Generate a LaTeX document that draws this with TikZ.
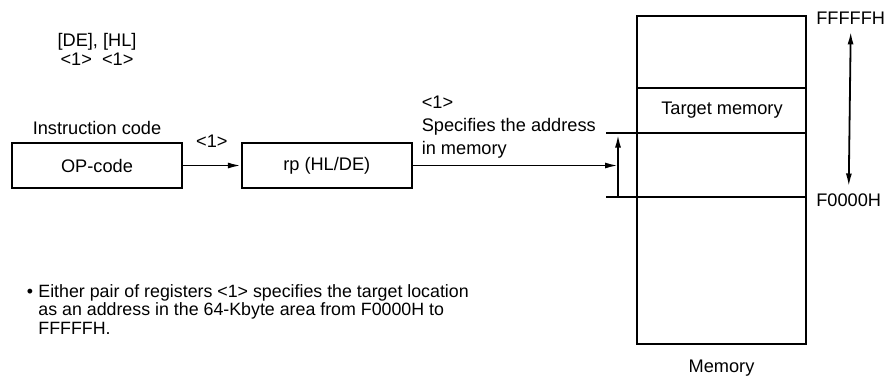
\documentclass[tikz,border=0pt]{standalone}
\usepackage{fontspec}
\setmainfont{Liberation Sans}
\usetikzlibrary{positioning,arrows.meta,calc}

\begin{document}
\begin{tikzpicture}[
    x=0.5pt, y=-0.5pt,
    every node/.style={font=\fontsize{9.1}{11.5}\selectfont},
    regbox/.style={draw, line width=0.9pt, minimum width=85pt, minimum height=22.5pt, inner sep=0pt},
    membox/.style={draw, line width=0.9pt, minimum width=84.5pt, minimum height=164pt, inner sep=0pt},
    rule/.style={line width=0.9pt},
    conn/.style={line width=0.9pt, -{Latex[length=6.5pt,width=3pt]}},
    span/.style={line width=0.9pt, {Latex[length=6.5pt,width=3pt]}-{Latex[length=6.5pt,width=3pt]}},
    node distance=29pt
]
  \useasboundingbox (0,0) rectangle (884,377);

  % registers used as pointer
  \node[align=center, font=\fontsize{9.1}{9.5}\selectfont] (regs) at (97,49) {[DE], [HL]\\<1>~~<1>};

  % instruction and register pair
  \node[regbox] (opcode) at (97,165.5) {OP-code};
  \node[above=0pt of opcode] (instr) {Instruction code};
  \node[regbox,right=of opcode] (rp) {rp (HL/DE)};
  \draw[conn] (opcode) -- (rp) node[midway,above=5pt] (sel) {<1>};

  % memory map
  \node[membox] (mem) at (721.5,180) {};
  \coordinate (top) at (637,88);
  \coordinate (hi) at (606,133);
  \coordinate (lo) at (606,197);
  \coordinate (ptr) at (618,197);
  \draw[rule] (top) -- (top -| mem.east);
  \draw[rule] (hi) -- (hi -| mem.east);
  \draw[rule] (lo) -- (lo -| mem.east);
  \node at ($(top)!0.5!(hi -| mem.east)$) (tgt) {Target memory};
  \node[below=4pt of mem] (memlbl) {Memory};

  \node[anchor=west, xshift=1.2pt, yshift=-1.5pt] (hiaddr) at (mem.north east) {FFFFFH};
  \node[anchor=west, xshift=1.2pt, yshift=-1.5pt] (loaddr) at (lo -| mem.east) {F0000H};
  \draw[span] (hiaddr.south) -- (loaddr.north);

  % address pointer
  \draw[conn] (rp.east) -- (ptr |- rp.east);
  \draw[conn, shorten >=0.8pt] (ptr) -- (ptr |- hi);
  \node[above right=0pt and 1pt of rp.east, align=left] (spec) {<1>\\Specifies the address\\in memory};

  % note
  \node[align=left, anchor=north west, inner sep=0pt, font=\fontsize{8.9}{9.2}\selectfont] (note) at (38,284)
    {\llap{•\hspace{2.6pt}}Either pair of registers <1> specifies the target location\\
     as an address in the 64-Kbyte area from F0000H to\\
     FFFFFH.};
\end{tikzpicture}
\end{document}
